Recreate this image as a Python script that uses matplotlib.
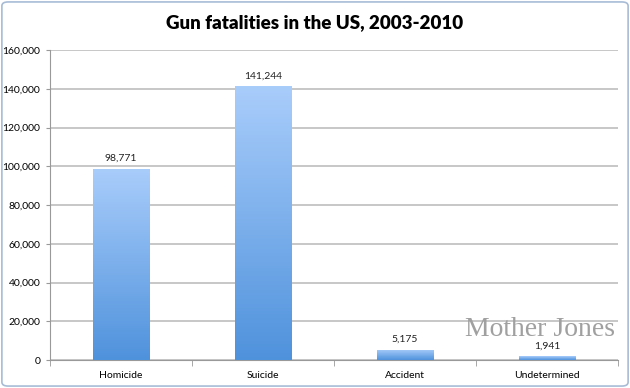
import numpy as np
import matplotlib.pyplot as plt
from matplotlib.colors import LinearSegmentedColormap
from matplotlib.patches import FancyBboxPatch

categories = ["Homicide", "Suicide", "Accident", "Undetermined"]
deaths = [98771, 141244, 5175, 1941]
yticks = [0, 20000, 40000, 60000, 80000, 100000, 120000, 140000, 160000]

fig = plt.figure(figsize=(6.3, 3.88), dpi=100)
fig.patch.set_facecolor("white")
ax = fig.add_axes([50 / 630, 1 - 360 / 388, 568 / 630, 310 / 388])

x = np.arange(len(categories))
bars = ax.bar(x, deaths, width=0.4, color="none", zorder=3)

# vertical gradient fill, clipped to each bar
cmap = LinearSegmentedColormap.from_list("blu", ["#4f92dc", "#a9cdfb"])
grad = np.linspace(0, 1, 256).reshape(-1, 1)
for b in bars:
    x0, y0 = b.get_x(), b.get_y()
    w, h = b.get_width(), b.get_height()
    im = ax.imshow(grad, cmap=cmap, origin="lower", aspect="auto",
                   extent=[x0, x0 + w, y0, y0 + h], zorder=3)
    im.set_clip_path(b)

for xi, v in zip(x, deaths):
    ax.text(xi, v + 3000, f"{v:,}", ha="center", va="bottom",
            fontsize=7.5, family="Lato", color="#222")

ax.set_xlim(-0.5, len(categories) - 0.5)
ax.set_ylim(0, 160000)
ax.set_yticks(yticks)
ax.set_yticklabels([f"{t:,}" for t in yticks], fontsize=7.5, family="Lato")
ax.set_xticks(x)
ax.set_xticklabels(categories, fontsize=7.5, family="Lato")
ax.set_xticks(np.arange(-0.5, len(categories), 1), minor=True)
ax.tick_params(axis="x", which="major", length=0, pad=8)
ax.tick_params(axis="x", which="minor", length=4, color="#999")
ax.tick_params(axis="y", length=3, color="#999", pad=4)

ax.grid(axis="y", color="#bdbdbd", linewidth=1.2, zorder=0)
ax.set_axisbelow(True)
for s in ["top", "right"]:
    ax.spines[s].set_visible(False)
ax.spines["left"].set_color("#999")
ax.spines["bottom"].set_color("#999")

fig.text(0.5, 0.942, "Gun fatalities in the US, 2003-2010", ha="center",
         va="center", fontsize=13.5, fontweight="heavy", family="Lato")
fig.text(0.976, 0.152, "Mother Jones", ha="right", va="center",
         fontsize=20, family="Liberation Serif", color="#a0a0a0")

border = FancyBboxPatch((0.003, 0.005), 0.994, 0.99,
                        boxstyle="round,pad=0,rounding_size=0.01",
                        transform=fig.transFigure, fill=False,
                        edgecolor="#a8bcd6", linewidth=1.2)
fig.patches.append(border)

fig.savefig("out.png", dpi=100)
